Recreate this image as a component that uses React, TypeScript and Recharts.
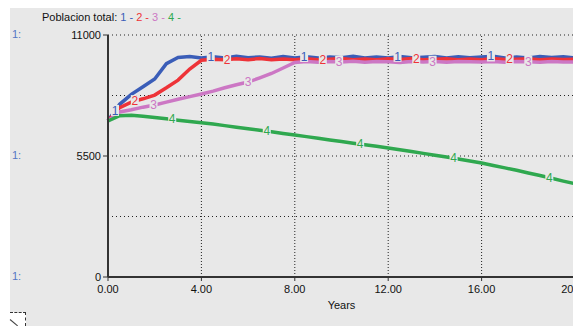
import { LineChart, Line, XAxis, YAxis, ReferenceLine, ReferenceDot } from "recharts";

const years = [
  0, 0.5, 1, 1.5, 2, 2.5, 3, 3.5, 4, 4.5, 5, 5.5, 6, 6.5, 7, 7.5, 8, 8.5, 9, 9.5, 10,
  10.5, 11, 11.5, 12, 12.5, 13, 13.5, 14, 14.5, 15, 15.5, 16, 16.5, 17, 17.5, 18, 18.5, 19, 19.5, 20,
];

const run1 = [
  7100, 7850, 8300, 8650, 9000, 9700, 9980, 10020, 9960, 10010, 9950, 10030, 9970, 10000, 9940, 10020, 9960,
  10010, 9950, 10000, 9970, 10030, 9950, 10000, 9960, 10020, 9970, 9990, 10020, 9950, 10010, 9970, 10000,
  10030, 9960, 10000, 9950, 10020, 9980, 10010, 9960,
];
const run2 = [
  7100, 7700, 7950, 8100, 8270, 8600, 8950, 9450, 9850, 9900, 9870, 9920, 9880, 9930, 9870, 9910, 9880,
  9920, 9870, 9900, 9930, 9880, 9910, 9870, 9920, 9890, 9930, 9870, 9900, 9920, 9880, 9910, 9870, 9930,
  9890, 9900, 9920, 9870, 9910, 9890, 9900,
];
const run3 = [
  7100, 7500, 7600, 7720, 7820, 7950, 8080, 8200, 8320, 8450, 8600, 8740, 8860, 9050, 9250, 9500, 9750,
  9800, 9760, 9790, 9770, 9810, 9760, 9790, 9780, 9750, 9800, 9770, 9790, 9760, 9800, 9780, 9770, 9790,
  9760, 9800, 9780, 9760, 9790, 9770, 9780,
];
const run4 = [
  7090, 7330, 7350, 7310, 7250, 7190, 7130, 7070, 7010, 6950, 6880, 6810, 6740, 6670, 6600, 6520, 6450,
  6380, 6310, 6230, 6160, 6080, 6010, 5940, 5860, 5780, 5700, 5620, 5530, 5450, 5360, 5270, 5180, 5070,
  4960, 4850, 4730, 4610, 4490, 4360, 4240,
];

// years where the run number is written on each curve
const marks1 = [0.3, 4.4, 8.4, 12.4, 16.4];
const marks2 = [1.15, 5.1, 9.2, 13.2, 17.2];
const marks3 = [1.95, 6.0, 9.9, 13.9, 18.0];
const marks4 = [2.75, 6.8, 10.8, 14.8, 18.9];

const xTicks = [0, 4, 8, 12, 16, 20];
const yTicks = [0, 5500, 11000];

const data = years.map((t, i) => ({ t, r1: run1[i], r2: run2[i], r3: run3[i], r4: run4[i] }));

const series = [
  { key: "r1", label: "1", color: "#3a5db8", marks: marks1, vals: run1 },
  { key: "r2", label: "2", color: "#ee3338", marks: marks2, vals: run2 },
  { key: "r3", label: "3", color: "#cc77c4", marks: marks3, vals: run3 },
  { key: "r4", label: "4", color: "#2fa84f", marks: marks4, vals: run4 },
];

const BG = "#e8e8e8";
const FONT = "'Liberation Sans', Arial, sans-serif";

function valueAt(vals: number[], t: number) {
  const i = Math.min(Math.floor(t / 0.5), vals.length - 2);
  const f = (t - years[i]) / 0.5;
  return vals[i] + (vals[i + 1] - vals[i]) * f;
}

const fmtX = (v: number) => v.toFixed(2);

export default function App() {
  return (
    <div style={{ position: "fixed", left: 0, top: 0, width: 573, height: 326, overflow: "hidden", background: "#fff", fontFamily: FONT }}>
      <div style={{ position: "absolute", left: 10, top: 8, width: 563, height: 318, background: BG }} />
      <div style={{ position: "absolute", left: 10, top: 312, width: 16, height: 14, background: "#fff", borderTop: "1px dashed #333", borderRight: "1px dashed #333", boxSizing: "border-box" }}>
        <div style={{ position: "absolute", left: 0, top: 6, width: 10, height: 1, background: "#444", transform: "rotate(40deg)", transformOrigin: "left" }} />
      </div>
      <div style={{ position: "absolute", left: 42, top: 11, fontSize: 11, whiteSpace: "pre", color: "#111" }}>
        Poblacion total:{" "}
        {series.map((s) => (
          <span key={s.key} style={{ color: s.color }}>{s.label} - </span>
        ))}
      </div>
      {[35, 156, 277].map((y) => (
        <div key={y} style={{ position: "absolute", left: 12, top: y - 7, fontSize: 11, color: "#5577c4" }}>1:</div>
      ))}
      <div style={{ position: "absolute", left: 0, top: 0 }}>
        <LineChart width={600} height={326} data={data} margin={{ top: 35, right: 25, bottom: 0, left: 48 }}>
          <XAxis
            dataKey="t"
            type="number"
            domain={[0, 20]}
            ticks={xTicks}
            tickFormatter={fmtX}
            height={49}
            tickSize={4}
            axisLine={{ stroke: "#333", strokeWidth: 2 }}
            tickLine={{ stroke: "#333" }}
            tick={{ fill: "#111", fontSize: 11, fontFamily: FONT, dy: 2 }}
            label={{ value: "Years", position: "insideBottom", offset: 17, fill: "#111", fontSize: 11, fontFamily: FONT }}
          />
          <YAxis
            type="number"
            domain={[0, 11000]}
            ticks={yTicks}
            width={60}
            tickSize={5}
            axisLine={{ stroke: "#333", strokeWidth: 2 }}
            tickLine={{ stroke: "#333" }}
            tick={{ fill: "#111", fontSize: 11, fontFamily: FONT }}
          />
          {[2750, 5500, 8250, 11000].map((v) => (
            <ReferenceLine key={"h" + v} y={v} stroke="#222" strokeDasharray="1 3" />
          ))}
          {[4, 8, 12, 16].map((v) => (
            <ReferenceLine key={"v" + v} x={v} stroke="#222" strokeDasharray="1 2" />
          ))}
          {series.map((s) => (
            <Line
              key={s.key}
              dataKey={s.key}
              type="linear"
              stroke={s.color}
              strokeWidth={3.5}
              dot={false}
              isAnimationActive={false}
            />
          ))}
          {series.flatMap((s) =>
            s.marks.map((t) => (
              <ReferenceDot
                key={s.key + t}
                x={t}
                y={valueAt(s.vals, t)}
                r={0}
                shape={(p: any) => (
                  <g>
                    <rect x={p.cx - 4} y={p.cy - 6} width={8} height={11} fill={BG} />
                    <text x={p.cx} y={p.cy + 4} textAnchor="middle" fontSize={12} fontFamily={FONT} fill={s.color}>
                      {s.label}
                    </text>
                  </g>
                )}
              />
            ))
          )}
        </LineChart>
      </div>
    </div>
  );
}
